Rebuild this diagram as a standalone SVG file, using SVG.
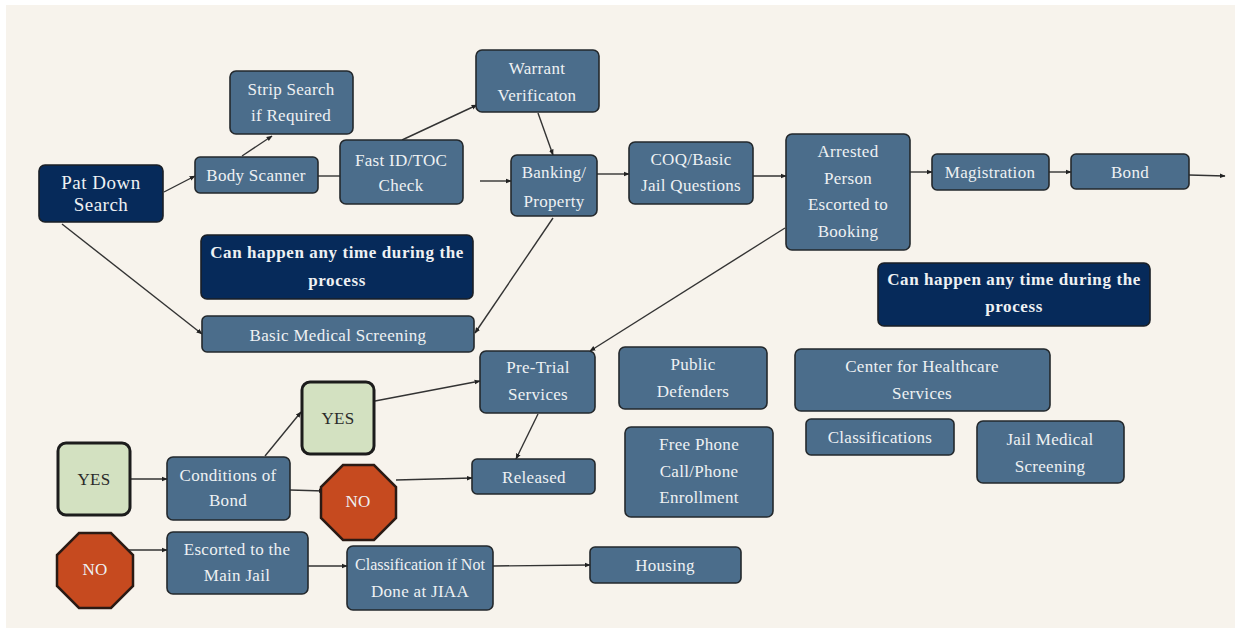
<svg xmlns="http://www.w3.org/2000/svg" width="1243" height="628" viewBox="0 0 1243 628">
<defs>
<style>
.n rect{fill:#4b6d8b;stroke:#23282c;stroke-width:1.6}
.d rect{fill:#062a5a;stroke:#1a1f26;stroke-width:1.6}
.g rect{fill:#d3e1c1;stroke:#1c1c1c;stroke-width:3}
.o polygon{fill:#c64a1f;stroke:#2a1a14;stroke-width:2.5}
text{font-family:"Liberation Serif","Times New Roman",serif;font-size:17px;text-anchor:middle;fill:#eef1f3;letter-spacing:0.3px}
.d text{font-weight:bold;font-size:17px;letter-spacing:0.6px}
#patdown text{font-weight:normal;font-size:19px;letter-spacing:0.5px}
.g text{fill:#2a2a2a}
.c line{stroke:#333;stroke-width:1.4;fill:none}
</style>
<marker id="a" viewBox="0 0 10 10" refX="9" refY="5" markerWidth="6" markerHeight="6" orient="auto" markerUnits="userSpaceOnUse"><path d="M0,1 L10,5 L0,9 z" fill="#222"/></marker>
</defs>
<rect width="1243" height="628" fill="#ffffff"/>
<rect x="6" y="5" width="1229" height="623" fill="#f7f3ec"/>
<g class="c">
<line x1="164" y1="192" x2="195" y2="176" marker-end="url(#a)"/>
<line x1="242" y1="156" x2="272" y2="136" marker-end="url(#a)"/>
<line x1="318" y1="176" x2="340" y2="176"/>
<line x1="402" y1="140" x2="477" y2="105" marker-end="url(#a)"/>
<line x1="538" y1="113" x2="553" y2="155" marker-end="url(#a)"/>
<line x1="480" y1="181" x2="511" y2="181" marker-end="url(#a)"/>
<line x1="597" y1="174" x2="629" y2="174" marker-end="url(#a)"/>
<line x1="753" y1="176" x2="786" y2="176" marker-end="url(#a)"/>
<line x1="910" y1="172" x2="932" y2="172" marker-end="url(#a)"/>
<line x1="1049" y1="172" x2="1071" y2="172" marker-end="url(#a)"/>
<line x1="1189" y1="175" x2="1225" y2="176" marker-end="url(#a)"/>
<line x1="62" y1="224" x2="202" y2="334" marker-end="url(#a)"/>
<line x1="553" y1="218" x2="475" y2="333" marker-end="url(#a)"/>
<line x1="785" y1="228" x2="590" y2="351" marker-end="url(#a)"/>
<line x1="375" y1="401" x2="480" y2="381" marker-end="url(#a)"/>
<line x1="538" y1="414" x2="516" y2="459" marker-end="url(#a)"/>
<line x1="396" y1="480" x2="472" y2="478" marker-end="url(#a)"/>
<line x1="265" y1="456" x2="301" y2="412" marker-end="url(#a)"/>
<line x1="290" y1="490" x2="324" y2="491" marker-end="url(#a)"/>
<line x1="131" y1="479" x2="167" y2="479" marker-end="url(#a)"/>
<line x1="106" y1="550" x2="167" y2="550" marker-end="url(#a)"/>
<line x1="308" y1="566" x2="347" y2="566" marker-end="url(#a)"/>
<line x1="493" y1="566" x2="590" y2="565" marker-end="url(#a)"/>
</g>
<g id="patdown" class="d"><rect x="39" y="165" width="124" height="57" rx="6"/><text x="101" y="189">Pat Down</text><text x="101" y="211">Search</text></g>
<g id="strip" class="n"><rect x="230" y="71" width="123" height="63" rx="6"/><text x="291" y="95">Strip Search</text><text x="291" y="121">if Required</text></g>
<g id="body" class="n"><rect x="195" y="157" width="123" height="36" rx="5"/><text x="256" y="181">Body Scanner</text></g>
<g id="fastid" class="n"><rect x="340" y="140" width="123" height="64" rx="6"/><text x="401" y="166">Fast ID/TOC</text><text x="401" y="191">Check</text></g>
<g id="warrant" class="n"><rect x="476" y="50" width="123" height="62" rx="6"/><text x="537" y="74">Warrant</text><text x="537" y="101">Verificaton</text></g>
<g id="banking" class="n"><rect x="511" y="155" width="86" height="61" rx="6"/><text x="554" y="178">Banking/</text><text x="554" y="207">Property</text></g>
<g id="coq" class="n"><rect x="629" y="142" width="124" height="62" rx="6"/><text x="691" y="165">COQ/Basic</text><text x="691" y="191">Jail Questions</text></g>
<g id="arrested" class="n"><rect x="786" y="134" width="124" height="116" rx="6"/><text x="848" y="157">Arrested</text><text x="848" y="184">Person</text><text x="848" y="210">Escorted to</text><text x="848" y="237">Booking</text></g>
<g id="magistration" class="n"><rect x="932" y="154" width="117" height="36" rx="5"/><text x="990" y="178">Magistration</text></g>
<g id="bond" class="n"><rect x="1071" y="154" width="118" height="35" rx="5"/><text x="1130" y="178">Bond</text></g>
<g id="note1" class="d"><rect x="201" y="235" width="272" height="64" rx="6"/><text x="337" y="258">Can happen any time during the</text><text x="337" y="286">process</text></g>
<g id="basicmed" class="n"><rect x="202" y="316" width="272" height="36" rx="5"/><text x="338" y="341">Basic Medical Screening</text></g>
<g id="note2" class="d"><rect x="878" y="263" width="272" height="63" rx="6"/><text x="1014" y="285">Can happen any time during the</text><text x="1014" y="312">process</text></g>
<g id="pretrial" class="n"><rect x="480" y="351" width="115" height="62" rx="6"/><text x="538" y="373">Pre-Trial</text><text x="538" y="400">Services</text></g>
<g id="public" class="n"><rect x="619" y="347" width="148" height="62" rx="6"/><text x="693" y="370">Public</text><text x="693" y="397">Defenders</text></g>
<g id="chs" class="n"><rect x="795" y="349" width="255" height="62" rx="6"/><text x="922" y="372">Center for Healthcare</text><text x="922" y="399">Services</text></g>
<g id="classifications" class="n"><rect x="806" y="419" width="148" height="36" rx="5"/><text x="880" y="443">Classifications</text></g>
<g id="jailmed" class="n"><rect x="977" y="421" width="147" height="62" rx="6"/><text x="1050" y="445">Jail Medical</text><text x="1050" y="472">Screening</text></g>
<g id="phone" class="n"><rect x="625" y="427" width="148" height="90" rx="6"/><text x="699" y="450">Free Phone</text><text x="699" y="477">Call/Phone</text><text x="699" y="503">Enrollment</text></g>
<g id="released" class="n"><rect x="472" y="459" width="123" height="35" rx="5"/><text x="534" y="483">Released</text></g>
<g id="yes1" class="g"><rect x="302" y="382" width="72" height="72" rx="8"/><text x="338" y="424">YES</text></g>
<g id="yes2" class="g"><rect x="58" y="443" width="72" height="72" rx="8"/><text x="94" y="485">YES</text></g>
<g id="conditions" class="n"><rect x="167" y="457" width="123" height="63" rx="6"/><text x="228" y="481">Conditions of</text><text x="228" y="506">Bond</text></g>
<g id="no1" class="o"><polygon points="343,465 374,465 396,487 396,518 374,540 343,540 321,518 321,487"/><text x="358" y="507">NO</text></g>
<g id="no2" class="o"><polygon points="79,533 111,533 133,555 133,586 111,608 79,608 57,586 57,555"/><text x="95" y="575">NO</text></g>
<g id="escorted" class="n"><rect x="167" y="532" width="141" height="62" rx="6"/><text x="237" y="555">Escorted to the</text><text x="237" y="581">Main Jail</text></g>
<g id="classif" class="n"><rect x="347" y="546" width="146" height="64" rx="6"/><text x="420" y="570" style="font-size:16px;letter-spacing:0">Classification if Not</text><text x="420" y="597">Done at JIAA</text></g>
<g id="housing" class="n"><rect x="590" y="547" width="151" height="36" rx="5"/><text x="665" y="571">Housing</text></g>
</svg>
